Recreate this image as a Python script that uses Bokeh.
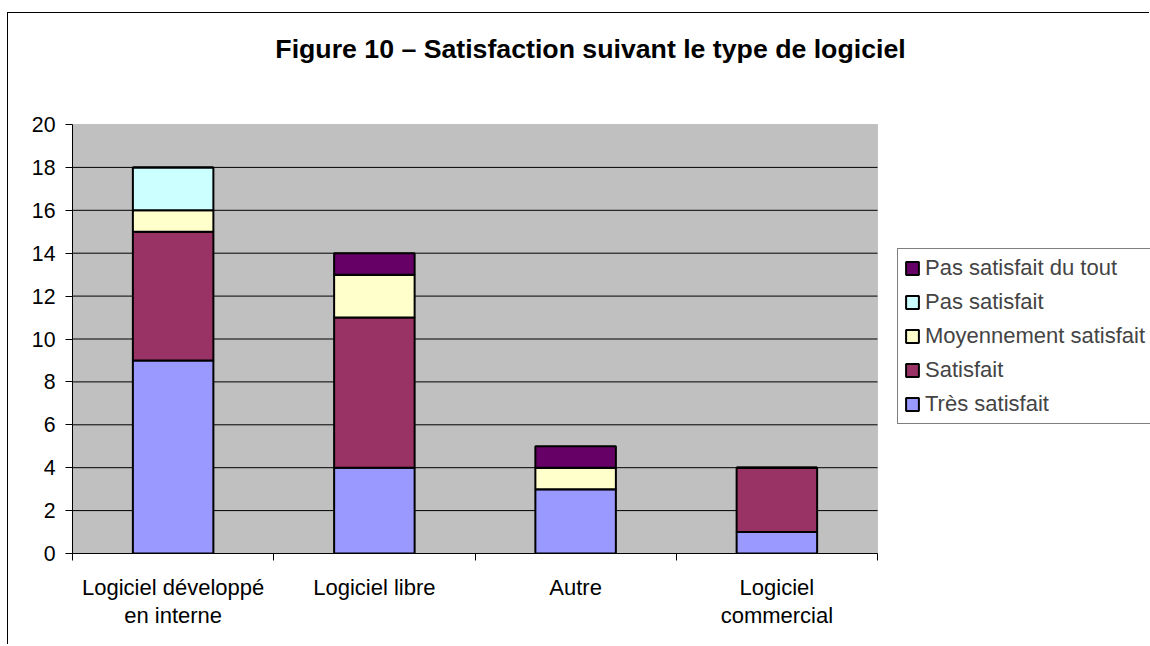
from bokeh.plotting import figure
from bokeh.models import (ColumnDataSource, Range1d, LinearAxis, BoxAnnotation,
                          FixedTicker, Legend, LegendItem, Label)
from bokeh.embed import file_html
from bokeh.resources import INLINE

# ---------------- data ----------------
categories = ["Logiciel développé en interne", "Logiciel libre", "Autre", "Logiciel commercial"]
category_labels = ["Logiciel développé\nen interne", "Logiciel libre", "Autre", "Logiciel\ncommercial"]
series_keys = ["tres", "sat", "moy", "pas", "pdt"]
series_names = ["Très satisfait", "Satisfait", "Moyennement satisfait",
                "Pas satisfait", "Pas satisfait du tout"]
tres_satisfait = [9, 4, 3, 1]
satisfait = [6, 7, 0, 3]
moyennement_satisfait = [1, 2, 1, 0]
pas_satisfait = [2, 0, 0, 0]
pas_satisfait_du_tout = [0, 1, 1, 0]
colors = ["#9999FF", "#993366", "#FFFFCC", "#CCFFFF", "#660066"]
y_ticks = list(range(0, 21, 2))
y_max = 20
title_text = "Figure 10 – Satisfaction suivant le type de logiciel"

FONT = "Liberation Sans"
LBL = "21.3px"
TXT = "22px"

n = len(categories)
centres = [i + 0.5 for i in range(n)]

source = ColumnDataSource(dict(
    x=centres,
    cat=categories,
    tres=tres_satisfait,
    sat=satisfait,
    moy=moyennement_satisfait,
    pas=pas_satisfait,
    pdt=pas_satisfait_du_tout,
))

# layout (pixels): plot area 72..877 x 124..553 in the window,
# the figure canvas starts at (8, 13) and ends at the window edge.
PLOT_W, PLOT_H = 805, 429
FRAME_W, FRAME_H = 1150 - 72, 553 - 13

p = figure(width=1142, height=632, title=None,
           x_range=Range1d(0, n * FRAME_W / PLOT_W),
           y_range=Range1d(0, y_max * FRAME_H / PLOT_H),
           output_backend="svg", toolbar_location=None,
           x_axis_location=None, y_axis_location="left",
           min_border_left=64, min_border_right=0,
           min_border_top=0, min_border_bottom=92,
           background_fill_color="white", border_fill_color="white",
           outline_line_color=None)
p.margin = (12, 0, 0, 7)
p.styles = {"border-left": "1px solid #000000", "border-top": "1px solid #000000"}

# grey plot area
p.add_layout(BoxAnnotation(left=0, right=n, bottom=0, top=y_max,
                           fill_color="#C0C0C0", fill_alpha=1.0,
                           line_color="#808080", line_width=1, level="underlay"))

# horizontal gridlines limited to the plot area
grid_y = y_ticks[1:-1]
p.segment(x0=[0] * len(grid_y), x1=[n] * len(grid_y), y0=grid_y, y1=grid_y,
          line_color="black", line_width=1)
p.xgrid.visible = False
p.ygrid.visible = False

renderers = p.vbar_stack(series_keys, x="x", width=0.4, source=source,
                         fill_color=colors, line_color="black", line_width=2)

# y axis
p.yaxis.ticker = FixedTicker(ticks=y_ticks)
p.yaxis.bounds = (0, y_max)
p.yaxis.axis_line_color = "black"
p.yaxis.major_tick_line_color = "black"
p.yaxis.major_tick_in = 0
p.yaxis.major_tick_out = 7
p.yaxis.minor_tick_line_color = None
p.yaxis.major_label_standoff = 10
p.yaxis.major_label_text_font = FONT
p.yaxis.major_label_text_font_size = LBL
p.yaxis.major_label_text_color = "black"

# x axis: tick marks between categories, labels at category centres
overrides = {}
for c, lab in zip(centres, category_labels):
    overrides[c] = lab
    overrides[str(c)] = lab
xaxis = LinearAxis(ticker=FixedTicker(ticks=centres, minor_ticks=list(range(n + 1))),
                   bounds=(0, n),
                   major_label_overrides=overrides,
                   axis_line_color="black",
                   major_tick_line_color=None, major_tick_in=0, major_tick_out=0,
                   minor_tick_line_color="black", minor_tick_in=0, minor_tick_out=7,
                   major_label_standoff=14,
                   major_label_text_font=FONT, major_label_text_font_size=TXT,
                   major_label_text_color="black",
                   major_label_text_line_height=1.15)
p.add_layout(xaxis, "below")

# legend
items = [LegendItem(label=nm, renderers=[r]) for nm, r in zip(series_names, renderers)]
items.reverse()
legend = Legend(items=items, location=(825, 129),
                border_line_color="black", border_line_width=1,
                background_fill_color="white", background_fill_alpha=1.0,
                label_text_font=FONT, label_text_font_size=TXT,
                glyph_width=16, glyph_height=16, label_standoff=5,
                padding=6, spacing=8, margin=0, label_height=22, label_width=250)
p.add_layout(legend, "center")

# title
p.add_layout(Label(x=518, y=505, x_units="screen", y_units="screen",
                   text=title_text, text_align="center", text_baseline="middle",
                   text_font=FONT, text_font_style="bold", text_font_size="26.7px",
                   text_color="black"))

open("out.html", "w").write(file_html(p, INLINE))
